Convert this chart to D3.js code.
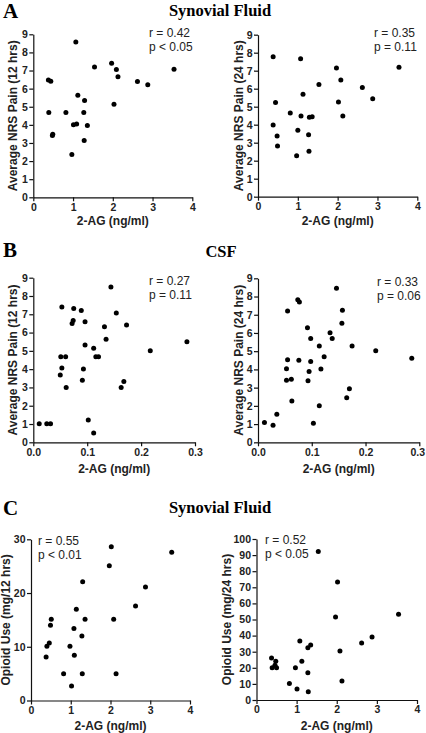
<!DOCTYPE html>
<html>
<head>
<meta charset="utf-8">
<script src="https://cdn.jsdelivr.net/npm/d3@7/dist/d3.min.js"></script>
<style>
  html, body { margin: 0; padding: 0; background: #fff; }
  svg { display: block; }
  .tick text { font-family: "Liberation Sans", Arial, sans-serif; font-weight: bold; font-size: 10.5px; fill: #222; }
  .axis path, .axis line { stroke: #111; stroke-width: 1.2px; }
</style>
</head>
<body>
<svg id="chart" width="426" height="733"></svg>
<script>
// ---- Data ----
// Panel A: Synovial fluid 2-AG vs NRS pain
const aLeftX  = [1.07,0.38,0.44,0.39,0.49,0.48,0.82,1.01,1.09,0.97,1.12,1.29,1.27,1.36,1.28,1.54,1.97,2.09,2.13,2.03,2.62,2.88,3.54];
const aLeftY  = [8.58,6.48,6.41,4.68,3.48,3.41,4.68,4.00,4.05,2.36,5.64,5.34,4.68,3.96,3.13,7.20,7.40,7.05,6.65,5.14,6.39,6.21,7.07];
const aRightX = [0.38,1.07,1.97,3.54,2.08,1.53,2.62,2.88,1.13,0.44,2.02,0.81,1.08,1.29,1.36,2.13,0.38,0.48,0.49,1.00,1.27,0.97,1.28];
const aRightY = [7.78,7.67,7.15,7.19,6.48,6.24,6.06,5.44,5.69,5.24,5.26,4.65,4.48,4.41,4.44,4.48,3.98,3.37,2.81,3.69,3.44,2.28,2.52];
// Panel B: CSF 2-AG vs NRS pain
const bLeftX  = [0.011,0.025,0.032,0.051,0.060,0.053,0.050,0.061,0.053,0.075,0.089,0.072,0.074,0.096,0.096,0.093,0.091,0.102,0.112,0.112,0.116,0.121,0.132,0.135,0.144,0.154,0.173,0.163,0.168,0.217,0.285];
const bLeftY  = [1.02,1.02,1.02,4.68,4.68,4.06,3.68,3.00,7.40,7.32,7.21,6.50,6.66,6.59,5.32,4.01,3.39,1.22,0.51,5.14,4.68,4.68,6.32,5.63,8.49,7.07,6.41,3.00,3.33,5.01,5.50];
const bRightX = [0.012,0.028,0.035,0.055,0.055,0.053,0.053,0.062,0.063,0.074,0.077,0.076,0.092,0.098,0.098,0.095,0.093,0.103,0.114,0.123,0.117,0.114,0.134,0.138,0.146,0.157,0.156,0.175,0.170,0.165,0.219,0.286];
const bRightY = [1.08,0.93,1.54,7.20,4.53,4.04,3.40,3.46,2.27,7.82,7.70,4.50,6.28,5.70,4.43,3.88,3.38,1.04,5.28,4.70,4.02,2.01,6.01,5.70,8.45,7.24,6.53,5.28,2.94,2.45,5.03,4.61];
// Panel C: Synovial fluid 2-AG vs opioid use
const cLeftX  = [2.02,3.54,1.97,1.30,2.88,2.63,1.14,0.51,0.49,0.46,0.40,0.38,1.08,1.36,2.08,1.28,0.98,1.09,0.82,1.29,2.14,1.02];
const cLeftY  = [28.6,27.6,25.1,22.1,21.1,17.6,17.0,15.1,14.0,10.7,10.1,8.1,13.4,15.1,15.1,12.0,10.1,8.4,5.0,5.0,5.0,2.7];
const cRightX = [1.54,2.02,1.97,3.54,2.88,2.62,2.08,2.13,0.375,0.39,0.46,0.48,0.50,0.97,1.08,1.13,1.28,1.35,1.28,0.82,1.01,1.29];
const cRightY = [92.3,73.3,51.6,53.2,39.1,35.4,30.4,11.8,26.1,20.1,21.6,24.0,20.1,20.1,36.6,24.0,32.4,34.1,17.0,10.3,6.8,5.1];

// Tick values
const synXTicks  = [0,1,2,3,4];
const csfXTicks  = [0.0,0.1,0.2,0.3];
const painYTicks = [0,1,2,3,4,5,6,7,8,9];
const opi12Ticks = [0,10,20,30];
const opi24Ticks = [0,10,20,30,40,50,60,70,80,90,100];

// Text
const sectionLetters = ["A","B","C"];
const sectionTitles  = ["Synovial Fluid","CSF","Synovial Fluid"];
const xTitle = "2-AG (ng/ml)";
const yTitles = ["Average NRS Pain (12 hrs)","Average NRS Pain (24 hrs)","Average NRS Pain (12 hrs)","Average NRS Pain (24 hrs)","Opioid Use (mg/12 hrs)","Opioid Use (mg/24 hrs)"];
const statR = ["r = 0.42","r = 0.35","r = 0.27","r = 0.33","r = 0.55","r = 0.52"];
const statP = ["p < 0.05","p = 0.11","p = 0.11","p = 0.06","p < 0.01","p < 0.05"];

// ---- Drawing ----
const svg = d3.select("#chart");
const serif = "'Liberation Serif', 'Times New Roman', serif";
const sans  = "'Liberation Sans', Arial, sans-serif";

// Section headers
const headers = [
  {letterY: 18, titleY: 16, titleX: 220},
  {letterY: 257, titleY: 257, titleX: 221},
  {letterY: 515, titleY: 513, titleX: 220}
];
headers.forEach((h, i) => {
  svg.append("text").attr("x", 3).attr("y", h.letterY)
    .attr("font-family", serif).attr("font-weight", "bold").attr("font-size", 21)
    .text(sectionLetters[i]);
  svg.append("text").attr("x", h.titleX).attr("y", h.titleY).attr("text-anchor", "middle")
    .attr("font-family", serif).attr("font-weight", "bold").attr("font-size", 16.5)
    .text(sectionTitles[i]);
});

const panels = [
  {xs: aLeftX, ys: aLeftY, xd: [0,4], yd: [0,9], xr: [33.3,192.3], yr: [197.3,34.3], xt: synXTicks, yt: painYTicks, fmt: d3.format("d"), ytx: 13, xty: 225, sx: 149, sy: 37},
  {xs: aRightX, ys: aRightY, xd: [0,4], yd: [0,9], xr: [258,417.3], yr: [196.7,34.7], xt: synXTicks, yt: painYTicks, fmt: d3.format("d"), ytx: 239, xty: 225, sx: 374, sy: 37},
  {xs: bLeftX, ys: bLeftY, xd: [0,0.3], yd: [0,9], xr: [33.3,195], yr: [442.3,277.7], xt: csfXTicks, yt: painYTicks, fmt: d3.format(".1f"), ytx: 13, xty: 473, sx: 149, sy: 285},
  {xs: bRightX, ys: bRightY, xd: [0,0.3], yd: [0,9], xr: [258,419.3], yr: [442.3,278.3], xt: csfXTicks, yt: painYTicks, fmt: d3.format(".1f"), ytx: 239, xty: 473, sx: 377, sy: 286, lastShift: -2},
  {xs: cLeftX, ys: cLeftY, xd: [0,4], yd: [0,30], xr: [31,190], yr: [700.5,539.3], xt: synXTicks, yt: opi12Ticks, fmt: d3.format("d"), ytx: 6, xty: 729.5, sx: 38, sy: 545},
  {xs: cRightX, ys: cRightY, xd: [0,4], yd: [0,100], xr: [256.5,417], yr: [700,539], xt: synXTicks, yt: opi24Ticks, fmt: d3.format("d"), ytx: 227, xty: 729.5, sx: 265, sy: 544}
];

panels.forEach((p, i) => {
  const x = d3.scaleLinear().domain(p.xd).range(p.xr);
  const y = d3.scaleLinear().domain(p.yd).range(p.yr);
  const g = svg.append("g");

  const xa = g.append("g").attr("class", "axis")
    .attr("transform", `translate(0,${p.yr[0]})`)
    .call(d3.axisBottom(x).tickValues(p.xt).tickFormat(p.fmt).tickSize(4).tickPadding(2).tickSizeOuter(0));
  if (p.lastShift) {
    xa.selectAll(".tick text").filter((d, k, n) => k === n.length - 1).attr("dx", p.lastShift);
  }
  g.append("g").attr("class", "axis")
    .attr("transform", `translate(${p.xr[0]},0)`)
    .call(d3.axisLeft(y).tickValues(p.yt).tickFormat(d3.format("d")).tickSize(4).tickPadding(1.5).tickSizeOuter(0));

  g.selectAll("circle.pt").data(p.xs.map((v, k) => [v, p.ys[k]])).enter()
    .append("circle").attr("class", "pt")
    .attr("cx", d => x(d[0])).attr("cy", d => y(d[1])).attr("r", 2.5).attr("fill", "#000");

  // axis titles
  g.append("text").attr("x", (p.xr[0] + p.xr[1]) / 2).attr("y", p.xty)
    .attr("text-anchor", "middle").attr("font-family", sans).attr("font-weight", "bold").attr("font-size", 12)
    .attr("fill", "#222").text(xTitle);
  const yc = (p.yr[0] + p.yr[1]) / 2;
  g.append("text").attr("transform", `translate(${p.ytx},${yc}) rotate(-90)`)
    .attr("dy", "0.35em").attr("text-anchor", "middle").attr("font-family", sans).attr("font-weight", "bold").attr("font-size", 12)
    .attr("fill", "#222").text(yTitles[i]);

  // stats
  g.append("text").attr("x", p.sx).attr("y", p.sy).attr("font-family", sans).attr("font-size", 12).attr("fill", "#222").text(statR[i]);
  g.append("text").attr("x", p.sx).attr("y", p.sy + 13.5).attr("font-family", sans).attr("font-size", 12).attr("fill", "#222").text(statP[i]);
});
</script>
</body>
</html>
